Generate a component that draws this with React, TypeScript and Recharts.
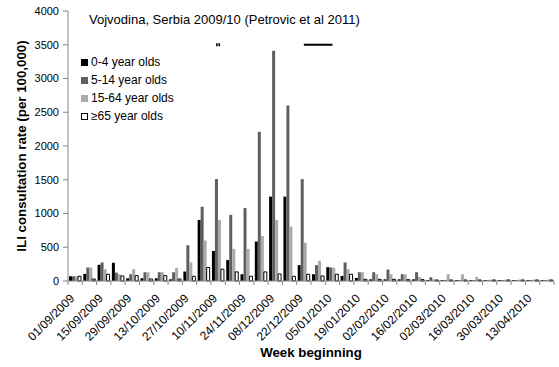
import { BarChart, Bar, XAxis, YAxis, Label, ReferenceLine, ReferenceDot } from "recharts"

const weeks = [
  "01/09/2009", "08/09/2009", "15/09/2009", "22/09/2009", "29/09/2009", "06/10/2009",
  "13/10/2009", "20/10/2009", "27/10/2009", "03/11/2009", "10/11/2009", "17/11/2009",
  "24/11/2009", "01/12/2009", "08/12/2009", "15/12/2009", "22/12/2009", "29/12/2009",
  "05/01/2010", "12/01/2010", "19/01/2010", "26/01/2010", "02/02/2010", "09/02/2010",
  "16/02/2010", "23/02/2010", "02/03/2010", "09/03/2010", "16/03/2010", "23/03/2010",
  "30/03/2010", "06/04/2010", "13/04/2010", "20/04/2010",
]

const ages0to4 = [70, 105, 240, 270, 40, 40, 40, 25, 140, 905, 445, 310, 100, 585, 1250, 1250, 235, 100, 205, 75, 45, 25, 25, 25, 25, 15, 15, 15, 15, 15, 15, 15, 15, 15]
const ages5to14 = [70, 200, 275, 125, 100, 130, 130, 130, 530, 1100, 1510, 980, 1080, 2210, 3410, 2600, 1510, 235, 200, 275, 130, 130, 170, 100, 130, 55, 15, 15, 15, 15, 15, 15, 15, 15]
const ages15to64 = [70, 200, 175, 100, 175, 130, 130, 195, 275, 600, 905, 475, 475, 665, 905, 805, 570, 300, 195, 175, 130, 100, 100, 100, 60, 25, 100, 100, 60, 20, 20, 20, 20, 20]
const ages65plus = [70, 30, 100, 75, 80, 30, 80, 30, 70, 200, 175, 135, 70, 135, 105, 70, 100, 75, 100, 100, 25, 25, 25, 20, 20, 15, 15, 15, 15, 15, 15, 15, 15, 15]

const yTicks = [0, 500, 1000, 1500, 2000, 2500, 3000, 3500, 4000]

// annotation marks drawn near the top of the plot
const markLevel = 3500
const markDotWeek = "10/11/2009"
const markLineFrom = "22/12/2009"
const markLineTo = "05/01/2010"

const series = [
  { key: "a0", name: "0-4 year olds", fill: "#000000", stroke: "none" },
  { key: "a5", name: "5-14 year olds", fill: "#5f5f5f", stroke: "none" },
  { key: "a15", name: "15-64 year olds", fill: "#aaaaaa", stroke: "none" },
  { key: "a65", name: "≥65 year olds", fill: "#ffffff", stroke: "#000000" },
]

const data = weeks.map((week, i) => ({
  week,
  a0: ages0to4[i],
  a5: ages5to14[i],
  a15: ages15to64[i],
  a65: ages65plus[i],
}))

const W = 559
const H = 367
const margin = { top: 11, right: 5, bottom: 0, left: 0 }
const yAxisWidth = 68
const band = (W - margin.left - margin.right - yAxisWidth) / weeks.length
const font = "'Liberation Sans', Arial, sans-serif"
const axisGrey = "#868686"

function WeekTick(props: any) {
  const { x, y, payload, index } = props
  const left = x - band / 2
  const ty = y + 18
  return (
    <g>
      <line x1={left} x2={left} y1={y} y2={y + 4} stroke={axisGrey} />
      {index === weeks.length - 1 && (
        <line x1={x + band / 2} x2={x + band / 2} y1={y} y2={y + 4} stroke={axisGrey} />
      )}
      {index % 2 === 0 && (
        <text
          x={x}
          y={ty}
          transform={`rotate(-45 ${x} ${ty})`}
          textAnchor="end"
          fontSize={12}
          fontFamily={font}
          fill="#000"
        >
          {payload.value}
        </text>
      )}
    </g>
  )
}

function LegendBox() {
  return (
    <div
      style={{
        position: "absolute",
        left: 81,
        top: 53,
        fontFamily: font,
        fontSize: 12,
        color: "#000",
        zIndex: 2,
      }}
    >
      {series.map((s) => (
        <div key={s.key} style={{ display: "flex", alignItems: "center", height: 18, whiteSpace: "nowrap" }}>
          <span
            style={{
              display: "inline-block",
              width: 5,
              height: 5,
              marginRight: 3,
              background: s.fill,
              border: s.stroke === "none" ? `1px solid ${s.fill}` : `1px solid ${s.stroke}`,
            }}
          />
          {s.name}
        </div>
      ))}
    </div>
  )
}

function TwinDot(p: any) {
  return (
    <g>
      <rect x={p.cx - 2} y={p.cy - 1.5} width={1.6} height={3} fill="#000" />
      <rect x={p.cx + 0.4} y={p.cy - 1.5} width={1.6} height={3} fill="#000" />
    </g>
  )
}

export default function App() {
  return (
    <div style={{ position: "absolute", left: 0, top: 0, width: W, height: H, background: "#fff" }}>
      <div
        style={{
          position: "absolute",
          left: 89,
          top: 12,
          fontFamily: font,
          fontSize: 13,
          color: "#000",
          whiteSpace: "nowrap",
          zIndex: 2,
        }}
      >
        Vojvodina, Serbia 2009/10 (Petrovic et al 2011)
      </div>
      <LegendBox />
      <BarChart width={W} height={H} data={data} margin={margin} barCategoryGap={1} barGap={0}>
        <XAxis
          dataKey="week"
          height={86}
          interval={0}
          tickLine={false}
          tickSize={0}
          tickMargin={0}
          axisLine={{ stroke: axisGrey }}
          tick={<WeekTick />}
        >
          <Label
            value="Week beginning"
            position="insideBottom"
            offset={10}
            style={{ fontFamily: font, fontSize: 13.3, fontWeight: "bold", fill: "#000" }}
          />
        </XAxis>
        <YAxis
          width={yAxisWidth}
          domain={[0, 4000]}
          ticks={yTicks}
          interval={0}
          tickSize={5}
          tickMargin={4}
          axisLine={{ stroke: axisGrey }}
          tickLine={{ stroke: axisGrey }}
          tick={{ fontFamily: font, fontSize: 11, fill: "#000" }}
        >
          <Label
            content={({ viewBox }: any) => {
              const cx = viewBox.x + 21
              const cy = viewBox.y + viewBox.height / 2
              return (
                <text
                  x={cx}
                  y={cy}
                  transform={`rotate(-90 ${cx} ${cy})`}
                  textAnchor="middle"
                  dominantBaseline="central"
                  fontFamily={font}
                  fontSize={13.3}
                  fontWeight="bold"
                  fill="#000"
                >
                  ILI consultation rate (per 100,000)
                </text>
              )
            }}
          />
        </YAxis>
        {series.map((s) => (
          <Bar
            key={s.key}
            dataKey={s.key}
            name={s.name}
            fill={s.fill}
            stroke={s.stroke}
            strokeWidth={s.stroke === "none" ? 0 : 1}
            isAnimationActive={false}
          />
        ))}
        <ReferenceLine
          segment={[
            { x: markLineFrom, y: markLevel },
            { x: markLineTo, y: markLevel },
          ]}
          stroke="#000"
          strokeWidth={2}
        />
        <ReferenceDot x={markDotWeek} y={markLevel} shape={<TwinDot />} />
      </BarChart>
    </div>
  )
}
